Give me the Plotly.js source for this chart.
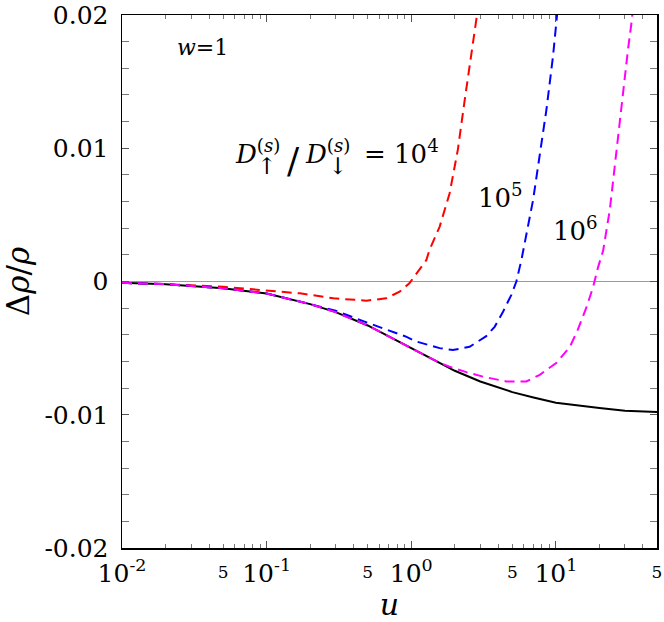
<!DOCTYPE html>
<html>
<head>
<meta charset="utf-8">
<script src="https://cdn.plot.ly/plotly-3.0.1.min.js"></script>
<style>body{margin:0;padding:0;background:#fff;}#chart{width:664px;height:622px;}</style>
</head>
<body>
<div id="chart"></div>
<script>
// Black solid curve
const uBlack = [0.01, 0.02, 0.05, 0.1, 0.2, 0.3, 0.5, 0.7, 1, 1.5, 2, 3, 5, 7, 10, 20, 30, 50];
const vBlack = [-0.0001, -0.0002, -0.0005, -0.0009, -0.0017, -0.0023, -0.0033, -0.0041, -0.005, -0.006, -0.0067, -0.0075, -0.0083, -0.0087, -0.0091, -0.0095, -0.0097, -0.0098];

// Red dashed: ratio 10^4
const uRed = [0.01, 0.02, 0.05, 0.1, 0.17, 0.29, 0.49, 0.67, 0.83, 0.97, 1.14, 1.27, 1.34, 1.57, 1.84, 2.1, 2.34, 2.6, 2.82, 2.9];
const vRed = [-0.0001, -0.0002, -0.0004, -0.0007, -0.00089, -0.00126, -0.00144, -0.00126, -0.00077, -0.00014, 0.00086, 0.0016, 0.0024, 0.0041, 0.0066, 0.0099, 0.0136, 0.0171, 0.0196, 0.0206];

// Blue dashed: ratio 10^5
const uBlue = [0.01, 0.02, 0.05, 0.1, 0.2, 0.3, 0.5, 0.7, 0.92, 1.08, 1.57, 1.94, 2.53, 3.3, 3.77, 4.31, 4.92, 5.33, 5.77, 6.95, 7.73, 8.6, 9.55, 10.07, 10.4];
const vBlue = [-0.0001, -0.0002, -0.0005, -0.0009, -0.0017, -0.0022, -0.0031, -0.0037, -0.00414, -0.0045, -0.005, -0.00514, -0.0049, -0.0041, -0.0034, -0.00227, -0.001, 0, 0.0016, 0.0061, 0.0094, 0.0129, 0.0169, 0.0194, 0.021];

// Magenta dashed: ratio 10^6
const uMag = [0.01, 0.02, 0.05, 0.1, 0.2, 0.3, 0.5, 0.7, 1, 1.5, 1.84, 2.4, 3.13, 4.54, 6.25, 7.73, 10.1, 12.5, 14.2, 16.3, 18.1, 19.6, 21.2, 23.6, 26.2, 29.1, 31.5, 33.3, 34.5];
const vMag = [-0.0001, -0.0002, -0.0005, -0.0009, -0.0017, -0.0023, -0.0033, -0.0041, -0.005, -0.006, -0.0064, -0.0068, -0.00714, -0.0075, -0.0075, -0.007, -0.0061, -0.0049, -0.0036, -0.0019, -0.0004, 0.0011, 0.0023, 0.0054, 0.0099, 0.0144, 0.0174, 0.0194, 0.021];

// Tick labels
const xDecades = [0.01, 0.1, 1, 10];
const xDecadeText = ['10<sup>-2</sup>', '10<sup>-1</sup>', '10<sup>0</sup>', '10<sup>1</sup>'];
const xFives = [0.05, 0.5, 5, 50];
const xFiveText = ['5', '5', '5', '5'];
const yTicks = [-0.02, -0.01, 0, 0.01, 0.02];
const yTickText = ['-0.02', '-0.01', '0', '0.01', '0.02'];

const FONT = 'DejaVu Serif';
const dashPat = '10px,6px';
const px2x = p => (p - 122) / 535;
const py2y = p => (548 - p) / 533;

const traces = [
  {x: uBlack, y: vBlack, mode: 'lines', line: {color: '#000000', width: 2}, hoverinfo: 'skip'},
  {x: uRed, y: vRed, mode: 'lines', line: {color: '#ff0000', width: 2, dash: dashPat}, hoverinfo: 'skip'},
  {x: uBlue, y: vBlue, mode: 'lines', line: {color: '#0000ff', width: 2, dash: dashPat}, hoverinfo: 'skip'},
  {x: uMag, y: vMag, mode: 'lines', line: {color: '#ff00ff', width: 2, dash: dashPat}, hoverinfo: 'skip'},
  {x: xFives, y: [null, null, null, null], xaxis: 'x2', yaxis: 'y', mode: 'lines', hoverinfo: 'skip', showlegend: false}
];

const annFont = s => ({family: FONT, size: s, color: '#000'});
const ann = (px, py, text, size) => ({xref: 'paper', yref: 'paper', x: px2x(px), y: py2y(py), xanchor: 'left', yanchor: 'middle', text: text, showarrow: false, font: annFont(size)});

const layout = {
  width: 664, height: 622,
  margin: {l: 122, r: 7, t: 15, b: 74},
  paper_bgcolor: '#ffffff', plot_bgcolor: '#ffffff',
  showlegend: false,
  font: {family: FONT, color: '#000000'},
  xaxis: {
    type: 'log', range: [-2, Math.log10(50)],
    tickvals: xDecades, ticktext: xDecadeText,
    ticks: 'inside', ticklen: 7, tickwidth: 1, tickcolor: '#555',
    minor: {dtick: 'D1', ticks: 'inside', ticklen: 4, tickwidth: 1, tickcolor: '#777', showgrid: false},
    showline: true, linecolor: '#000', linewidth: 1.5, mirror: 'allticks',
    showgrid: false, zeroline: false,
    tickfont: {family: FONT, size: 25},
    ticklabelstandoff: 2, ticklabeloverflow: 'allow',
    title: {text: '<i>u</i>', font: {family: FONT, size: 30}, standoff: 0}
  },
  xaxis2: {
    type: 'log', range: [-2, Math.log10(50)], overlaying: 'x', anchor: 'y', side: 'bottom',
    tickvals: xFives, ticktext: xFiveText, ticks: '', showline: false, showgrid: false, zeroline: false,
    tickfont: {family: FONT, size: 17},
    ticklabelstandoff: 12, ticklabeloverflow: 'allow'
  },
  yaxis: {
    range: [-0.02, 0.02],
    tickvals: yTicks, ticktext: yTickText,
    ticks: 'inside', ticklen: 7, tickwidth: 1, tickcolor: '#555',
    minor: {dtick: 0.002, ticks: 'inside', ticklen: 4, tickwidth: 1, tickcolor: '#777', showgrid: false},
    showline: true, linecolor: '#000', linewidth: 1.5, mirror: 'allticks',
    showgrid: false,
    zeroline: true, zerolinecolor: '#999', zerolinewidth: 1,
    tickfont: {family: FONT, size: 25},
    ticklabelstandoff: 7, ticklabeloverflow: 'allow',
    title: {text: 'Δ<i>ρ</i>/<i>ρ</i>', font: {family: FONT, size: 31}, standoff: 15}
  },
  annotations: [
    ann(175, 48, '<i>w</i>=1', 22),
    ann(233, 152, '<i>D</i><sup>(<i>s</i>)</sup>', 26),
    ann(255, 166, '↑', 23),
    ann(285, 160, '/', 36),
    ann(303, 152, '<i>D</i><sup>(<i>s</i>)</sup>', 26),
    ann(326, 166, '↓', 23),
    ann(362, 152, '= 10<sup>4</sup>', 26),
    ann(476, 196, '10<sup>5</sup>', 26),
    ann(551, 229, '10<sup>6</sup>', 26)
  ]
};

Plotly.newPlot('chart', traces, layout, {staticPlot: true, displayModeBar: false});
</script>
</body>
</html>
